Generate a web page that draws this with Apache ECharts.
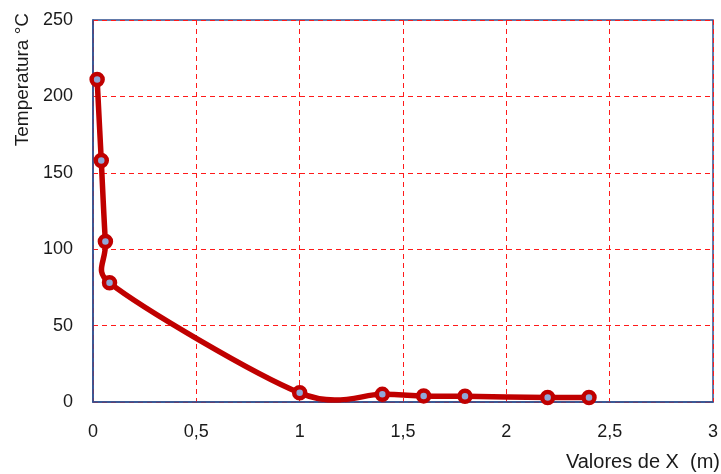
<!DOCTYPE html>
<html>
<head>
<meta charset="utf-8">
<script src="https://cdn.jsdelivr.net/npm/echarts@6/dist/echarts.min.js"></script>
<style>
  html, body { margin: 0; padding: 0; background: #ffffff; }
  #chart { width: 721px; height: 474px; }
</style>
</head>
<body>
<div id="chart"></div>
<script>
// Distance along the bar (m) and measured temperature (°C)
const xValues = [0.02, 0.04, 0.06, 0.08, 1.0, 1.4, 1.6, 1.8, 2.2, 2.4];
const temperatures = [211, 158, 105, 78, 6, 5, 4, 3.7, 3, 3];

const xTicks = [0, 0.5, 1, 1.5, 2, 2.5, 3];
const yTicks = [0, 50, 100, 150, 200, 250];

const xTitle = 'Valores de X  (m)';
const yTitle = 'Temperatura °C';

const points = xValues.map((x, i) => [x, temperatures[i]]);
const fontFamily = '"Liberation Sans", Arial, sans-serif';
const frameColor = '#2f4f8f';
const lineColor = '#c00000';

// Control-point offset along the neighbour chord (1/6 of it),
// limited to half of the segment it belongs to.
function handle(a, b, segLen) {
  let dx = (b[0] - a[0]) / 6, dy = (b[1] - a[1]) / 6;
  const len = Math.hypot(dx, dy), cap = segLen / 2;
  if (len > cap && len > 0) { dx *= cap / len; dy *= cap / len; }
  return [dx, dy];
}

// Smoothed curve through the data points, built from pixel positions
// given by the cartesian coordinate system.
function renderCurve(params, api) {
  if (params.dataIndex !== 0) return;
  const p = points.map(pt => api.coord(pt));
  const n = p.length;
  const children = [];
  for (let i = 0; i < n - 1; i++) {
    const p0 = p[Math.max(i - 1, 0)];
    const p1 = p[i];
    const p2 = p[i + 1];
    const p3 = p[Math.min(i + 2, n - 1)];
    const seg = Math.hypot(p2[0] - p1[0], p2[1] - p1[1]);
    const h1 = handle(p0, p2, seg);
    const h2 = handle(p1, p3, seg);
    children.push({
      type: 'bezierCurve',
      shape: {
        x1: p1[0], y1: p1[1],
        cpx1: p1[0] + h1[0], cpy1: p1[1] + h1[1],
        cpx2: p2[0] - h2[0], cpy2: p2[1] - h2[1],
        x2: p2[0], y2: p2[1]
      },
      style: { stroke: lineColor, lineWidth: 5.5, fill: null, lineCap: 'round', lineJoin: 'round' }
    });
  }
  return { type: 'group', children };
}

const chart = echarts.init(document.getElementById('chart'), null, { renderer: 'canvas' });
chart.setOption({
  animation: false,
  backgroundColor: '#ffffff',
  grid: { left: 93, top: 20, right: 8, bottom: 72, show: true, borderColor: frameColor, borderWidth: 1.5, backgroundColor: '#ffffff' },
  xAxis: {
    type: 'value',
    min: xTicks[0], max: xTicks[xTicks.length - 1], interval: 0.5,
    axisLine: { show: true, lineStyle: { color: frameColor, width: 1.5 } },
    axisTick: { show: false },
    axisLabel: {
      color: '#1a1a1a', fontSize: 18, fontFamily, margin: 21,
      formatter: v => String(v).replace('.', ',')
    },
    splitLine: { show: true, lineStyle: { color: '#ff1a1a', type: [5, 4], width: 1 } }
  },
  yAxis: {
    type: 'value',
    min: yTicks[0], max: yTicks[yTicks.length - 1], interval: 50,
    axisLine: { show: true, lineStyle: { color: frameColor, width: 1.5 } },
    axisTick: { show: false },
    axisLabel: { color: '#1a1a1a', fontSize: 18, fontFamily, margin: 20 },
    splitLine: { show: true, lineStyle: { color: '#ff1a1a', type: [5, 4], width: 1 } }
  },
  graphic: [
    {
      type: 'text', left: 13, top: 13,
      rotation: Math.PI / 2, originX: 0, originY: 0,
      style: { text: yTitle, fill: '#1a1a1a', fontSize: 19, fontFamily }
    },
    {
      type: 'text', right: 1, top: 452,
      style: { text: xTitle, fill: '#1a1a1a', fontSize: 20, fontFamily }
    }
  ],
  series: [
    {
      type: 'custom',
      coordinateSystem: 'cartesian2d',
      renderItem: renderCurve,
      data: [points[0]],
      clip: false,
      silent: true,
      z: 4
    },
    {
      type: 'scatter',
      data: points,
      symbol: 'circle',
      symbolSize: 11,
      itemStyle: { color: '#8fa8d8', borderColor: lineColor, borderWidth: 4.5, opacity: 1 },
      z: 5
    }
  ]
});
</script>
</body>
</html>
